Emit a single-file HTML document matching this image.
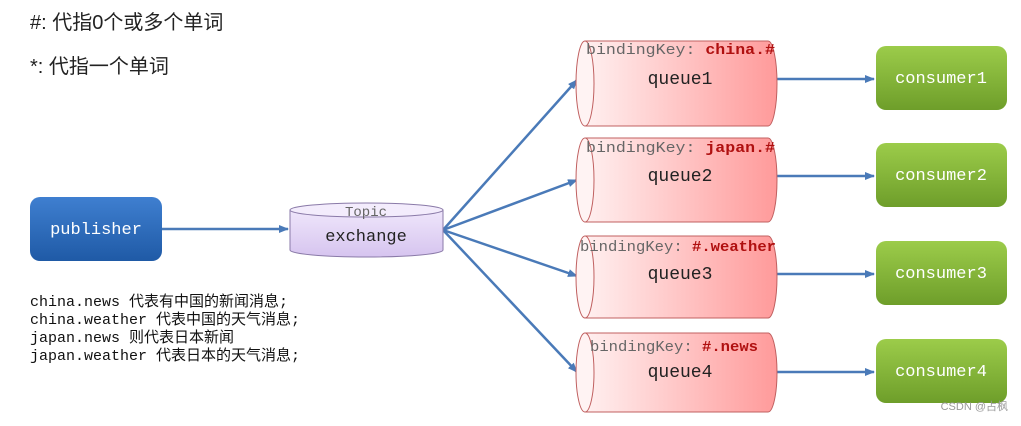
<!DOCTYPE html>
<html><head><meta charset="utf-8"><style>body{margin:0;background:#fff}</style></head><body>
<svg width="1021" height="421" xmlns="http://www.w3.org/2000/svg" font-family="'Liberation Mono','Noto Sans CJK SC',monospace">
<defs>
<linearGradient id="bl" x1="0" y1="0" x2="0" y2="1"><stop offset="0" stop-color="#3f7fd0"/><stop offset="1" stop-color="#1f5aa6"/></linearGradient>
<linearGradient id="gr" x1="0" y1="0" x2="0" y2="1"><stop offset="0" stop-color="#9ccc4a"/><stop offset="1" stop-color="#6e9e2a"/></linearGradient>
<linearGradient id="rd" x1="0" y1="0" x2="1" y2="0"><stop offset="0" stop-color="#fff0f0"/><stop offset="1" stop-color="#ff9a9a"/></linearGradient>
<linearGradient id="pu" x1="0" y1="0" x2="0" y2="1"><stop offset="0" stop-color="#efe6fb"/><stop offset="1" stop-color="#d6c4ef"/></linearGradient>
<marker id="ar" markerWidth="10" markerHeight="8" refX="9" refY="4" orient="auto" markerUnits="userSpaceOnUse"><path d="M0,0 L10,4 L0,8 z" fill="#4a7ab8"/></marker>
</defs>
<g font-family="'Liberation Sans','Noto Sans CJK SC',sans-serif" font-size="20" fill="#222">
<text x="30" y="29">#: 代指0个或多个单词</text>
<text x="30" y="73">*: 代指一个单词</text>
</g>
<g stroke="#4a7ab8" stroke-width="2.5" fill="none" marker-end="url(#ar)">
<line x1="162" y1="229" x2="288" y2="229"/>
<line x1="443" y1="230" x2="577" y2="80"/>
<line x1="443" y1="230" x2="577" y2="180"/>
<line x1="443" y1="230" x2="577" y2="276"/>
<line x1="443" y1="230" x2="577" y2="372"/>
<line x1="774" y1="79" x2="874" y2="79"/>
<line x1="774" y1="176" x2="874" y2="176"/>
<line x1="774" y1="274" x2="874" y2="274"/>
<line x1="774" y1="372" x2="874" y2="372"/>
</g>
<rect x="30" y="197" width="132" height="64" rx="10" fill="url(#bl)"/>
<text x="96" y="234" font-size="17" fill="#fff" text-anchor="middle">publisher</text>
<path d="M290,210 L290,250 A76,7 0 0 0 443,250 L443,210 Z" fill="url(#pu)" stroke="#8a7aa8"/>
<ellipse cx="366.5" cy="210" rx="76.5" ry="7" fill="#f3ecfc" stroke="#8a7aa8"/>
<text x="366" y="216" font-size="14" fill="#666" text-anchor="middle">Topic</text>
<text x="366" y="241" font-size="17" fill="#222" text-anchor="middle">exchange</text>
<g>
<path d="M585,41 L768,41 A9,42.5 0 0 1 768,126 L585,126 Z" fill="url(#rd)" stroke="#c06060"/>
<ellipse cx="585" cy="83.5" rx="9" ry="42.5" fill="#fff3f3" stroke="#c06060"/>
<path d="M585,138 L768,138 A9,42 0 0 1 768,222 L585,222 Z" fill="url(#rd)" stroke="#c06060"/>
<ellipse cx="585" cy="180" rx="9" ry="42" fill="#fff3f3" stroke="#c06060"/>
<path d="M585,236 L768,236 A9,41 0 0 1 768,318 L585,318 Z" fill="url(#rd)" stroke="#c06060"/>
<ellipse cx="585" cy="277" rx="9" ry="41" fill="#fff3f3" stroke="#c06060"/>
<path d="M585,333 L768,333 A9,39.5 0 0 1 768,412 L585,412 Z" fill="url(#rd)" stroke="#c06060"/>
<ellipse cx="585" cy="372.5" rx="9" ry="39.5" fill="#fff3f3" stroke="#c06060"/>
</g>
<g font-size="15" fill="#666">
<text x="586" y="54" textLength="189" lengthAdjust="spacingAndGlyphs">bindingKey: <tspan fill="#b01010" font-weight="bold">china.#</tspan></text>
<text x="586" y="152" textLength="189" lengthAdjust="spacingAndGlyphs">bindingKey: <tspan fill="#b01010" font-weight="bold">japan.#</tspan></text>
<text x="580" y="251" textLength="196" lengthAdjust="spacingAndGlyphs">bindingKey: <tspan fill="#b01010" font-weight="bold">#.weather</tspan></text>
<text x="590" y="351" textLength="168" lengthAdjust="spacingAndGlyphs">bindingKey: <tspan fill="#b01010" font-weight="bold">#.news</tspan></text>
</g>
<g font-size="18" fill="#222" text-anchor="middle">
<text x="680" y="84">queue1</text><text x="680" y="181">queue2</text>
<text x="680" y="279">queue3</text><text x="680" y="377">queue4</text>
</g>
<g fill="url(#gr)">
<rect x="876" y="46" width="131" height="64" rx="10"/>
<rect x="876" y="143" width="131" height="64" rx="10"/>
<rect x="876" y="241" width="131" height="64" rx="10"/>
<rect x="876" y="339" width="131" height="64" rx="10"/>
</g>
<g font-size="17" fill="#fff" text-anchor="middle">
<text x="941" y="83">consumer1</text><text x="941" y="180">consumer2</text>
<text x="941" y="278">consumer3</text><text x="941" y="376">consumer4</text>
</g>
<g font-size="15" fill="#111">
<text x="30" y="306">china.news 代表有中国的新闻消息;</text>
<text x="30" y="324">china.weather 代表中国的天气消息;</text>
<text x="30" y="342">japan.news 则代表日本新闻</text>
<text x="30" y="360">japan.weather 代表日本的天气消息;</text>
</g>
<text x="1008" y="410" font-size="11" fill="#999" text-anchor="end" font-family="'Liberation Sans','Noto Sans CJK SC',sans-serif">CSDN @占枫</text>
</svg>
</body></html>
